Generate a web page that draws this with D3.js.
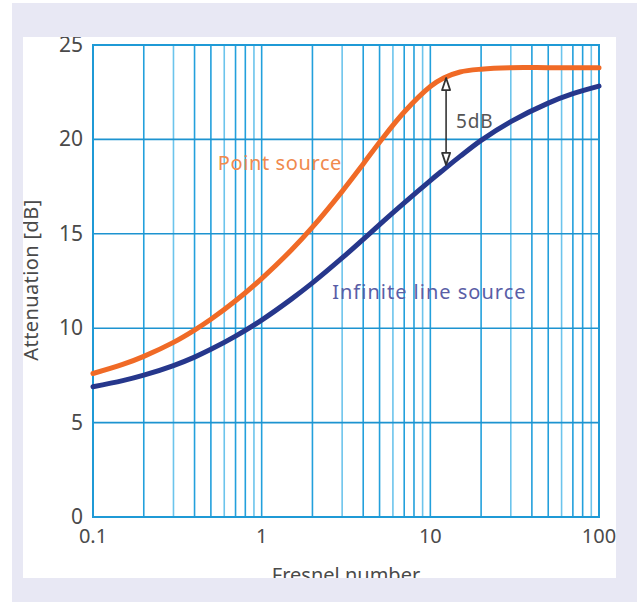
<!DOCTYPE html>
<html>
<head>
<meta charset="utf-8">
<script src="https://cdn.jsdelivr.net/npm/d3@7"></script>
<style>
  html, body { margin: 0; padding: 0; background: #ffffff; }
  svg { display: block; }
  text { font-family: "Noto Sans", Lato, sans-serif; }
</style>
</head>
<body>
<svg id="chart" width="637" height="602"></svg>
<script>
// ---- data ----
const fresnel = [0.1, 0.15, 0.2, 0.3, 0.4, 0.5, 0.7, 1, 1.5, 2, 3, 4, 5, 7, 10, 12, 15, 20, 30, 50, 70, 100];
const pointSource = [7.6, 8.08, 8.51, 9.25, 9.9, 10.47, 11.45, 12.63, 14.14, 15.35, 17.25, 18.7, 19.85, 21.45, 22.8, 23.25, 23.57, 23.72, 23.8, 23.8, 23.8, 23.8];
const lineSource = [6.9, 7.22, 7.51, 8.02, 8.47, 8.88, 9.58, 10.43, 11.54, 12.4, 13.72, 14.71, 15.49, 16.64, 17.82, 18.4, 19.1, 19.95, 20.94, 21.92, 22.42, 22.82];
const xTickValues = [0.1, 1, 10, 100];
const xTickLabels = ["0.1", "1", "10", "100"];
const yTickValues = [0, 5, 10, 15, 20, 25];
const yTickLabels = ["0", "5", "10", "15", "20", "25"];
const seriesNames = ["Point source", "Infinite line source"];
const seriesLabelAt = [[0.55, 18.4], [2.62, 11.55]];
const arrowAt = 12.4;
const arrowFrom = 23.25;
const arrowTo = 18.65;
const arrowText = "5dB";

// ---- drawing ----
const svg = d3.select("#chart");
const x = d3.scaleLog().domain([0.1, 100]).range([93, 599]);
const y = d3.scaleLinear().domain([0, 25]).range([517, 45]);

svg.append("rect").attr("x", 12).attr("y", 3).attr("width", 625).attr("height", 599).attr("fill", "#e8e8f4");
const defs = svg.append("defs");
defs.append("clipPath").attr("id", "panelClip")
  .append("rect").attr("x", 23).attr("y", 37).attr("width", 593).attr("height", 541);
defs.append("marker")
  .attr("id", "arrowHead").attr("viewBox", "0 0 14 10").attr("refX", 13).attr("refY", 5)
  .attr("markerWidth", 14).attr("markerHeight", 10).attr("markerUnits", "userSpaceOnUse")
  .attr("orient", "auto-start-reverse")
  .append("path").attr("d", "M13,5 L1,1 L1,9 Z")
  .attr("fill", "#ffffff").attr("stroke", "#333").attr("stroke-width", 1.8)
  .attr("stroke-linejoin", "round");

const panel = svg.append("g").attr("clip-path", "url(#panelClip)");
panel.append("rect").attr("x", 23).attr("y", 37).attr("width", 593).attr("height", 541).attr("fill", "#ffffff");

// vertical grid (log ticks)
const vTicks = x.ticks();
panel.append("g").selectAll("line").data(vTicks).join("line")
  .attr("x1", d => x(d)).attr("x2", d => x(d))
  .attr("y1", y(25)).attr("y2", y(0))
  .attr("stroke", (d, i) => (i % 3 === 2 ? "#6cc4ec" : "#23a0dc"))
  .attr("stroke-width", 1.6);

// horizontal grid
panel.append("g").selectAll("line").data(yTickValues).join("line")
  .attr("x1", x(0.1)).attr("x2", x(100))
  .attr("y1", d => y(d)).attr("y2", d => y(d))
  .attr("stroke", "#1d93d0").attr("stroke-width", 1.6);

// frame
panel.append("rect").attr("x", x(0.1)).attr("y", y(25))
  .attr("width", x(100) - x(0.1)).attr("height", y(0) - y(25))
  .attr("fill", "none").attr("stroke", "#1f9ad6").attr("stroke-width", 2);

// curves
const line = d3.line().x(d => x(d[0])).y(d => y(d[1])).curve(d3.curveCatmullRom.alpha(0.5));
panel.append("path").datum(fresnel.map((f, i) => [f, lineSource[i]]))
  .attr("d", line).attr("fill", "none").attr("stroke", "#26378c")
  .attr("stroke-width", 5).attr("stroke-linecap", "round");
panel.append("path").datum(fresnel.map((f, i) => [f, pointSource[i]]))
  .attr("d", line).attr("fill", "none").attr("stroke", "#f06a26")
  .attr("stroke-width", 5).attr("stroke-linecap", "round");

// 5dB arrow
panel.append("line")
  .attr("x1", x(arrowAt)).attr("x2", x(arrowAt))
  .attr("y1", y(arrowFrom)).attr("y2", y(arrowTo))
  .attr("stroke", "#333").attr("stroke-width", 1.6)
  .attr("marker-start", "url(#arrowHead)").attr("marker-end", "url(#arrowHead)");
panel.append("text").attr("x", x(arrowAt) + 10).attr("y", y((arrowFrom + arrowTo) / 2) + 7)
  .attr("font-size", 19).attr("letter-spacing", 0.8).attr("fill", "#555").text(arrowText);

// series labels
panel.append("text").attr("x", x(seriesLabelAt[0][0])).attr("y", y(seriesLabelAt[0][1]))
  .attr("font-size", 20).attr("letter-spacing", 0.6).attr("fill", "#f08a4e").text(seriesNames[0]);
panel.append("text").attr("x", x(seriesLabelAt[1][0])).attr("y", y(seriesLabelAt[1][1]))
  .attr("font-size", 20).attr("letter-spacing", 1.0).attr("fill", "#5a5ea6").text(seriesNames[1]);

// tick labels
panel.append("g").selectAll("text").data(yTickValues).join("text")
  .attr("x", 83).attr("y", d => y(d) + 7).attr("text-anchor", "end")
  .attr("font-size", 21).attr("fill", "#4a4a4a").text((d, i) => yTickLabels[i]);
panel.append("g").selectAll("text").data(xTickValues).join("text")
  .attr("x", d => x(d)).attr("y", 543).attr("text-anchor", "middle")
  .attr("font-size", 20).attr("fill", "#4a4a4a").text((d, i) => xTickLabels[i]);

// axis titles
panel.append("text").attr("x", (x(0.1) + x(100)) / 2).attr("y", 582).attr("text-anchor", "middle")
  .attr("font-size", 20).attr("fill", "#4a4a4a").text("Fresnel number");
panel.append("text").attr("transform", "translate(38,280) rotate(-90)").attr("text-anchor", "middle")
  .attr("font-size", 20).attr("letter-spacing", 0.4).attr("fill", "#4a4a4a").text("Attenuation [dB]");
</script>
</body>
</html>
